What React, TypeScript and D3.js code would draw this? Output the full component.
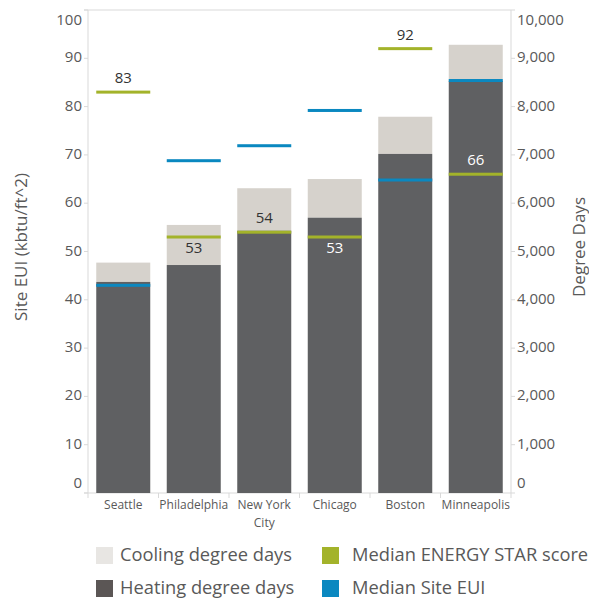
import React from "react";
import * as d3 from "d3";

const cities = ["Seattle", "Philadelphia", "New York City", "Chicago", "Boston", "Minneapolis"];
const heatingDegreeDays = [4370, 4720, 5430, 5700, 7020, 8530];
const coolingDegreeDays = [400, 830, 880, 800, 770, 750];
const medianSiteEUI = [43, 68.8, 71.9, 79.2, 64.8, 85.4];
const medianScore = [83, 53, 54, 53, 92, 66];
const scoreLabelSide = ["above", "below", "above", "below", "above", "above"];
const euiTicks = [0, 10, 20, 30, 40, 50, 60, 70, 80, 90, 100];
const ddTicks = [0, 1000, 2000, 3000, 4000, 5000, 6000, 7000, 8000, 9000, 10000];

const W = 589;
const H = 601;
const left = 88;
const right = 511;
const top = 10;
const bottom = 493;

const C_HEAT = "#5f6062";
const C_COOL = "#d6d2cc";
const C_GREEN = "#a3b32a";
const C_BLUE = "#0a88c0";
const C_AXIS = "#d9d9d9";
const C_TEXT = "#595959";
const FONT = "'Open Sans', sans-serif";

export default function App() {
  const x = d3.scaleBand<string>().domain(cities).range([left, right]).paddingInner(0.234).paddingOuter(0.117);
  const band = d3.scaleBand<string>().domain(cities).range([left, right]);
  const yE = d3.scaleLinear().domain([0, 100]).range([bottom, top]);
  const yD = d3.scaleLinear().domain([0, 10000]).range([bottom, top]);
  const bw = x.bandwidth();
  const fmt = d3.format(",");

  return (
    <svg width={W} height={H} style={{ position: "absolute", left: 0, top: 0, fontFamily: FONT }}>
      <rect x={0} y={0} width={W} height={H} fill="#fff" />
      {/* frame */}
      <line x1={left - 4} x2={right} y1={top} y2={top} stroke={C_AXIS} />
      <line x1={left} x2={left} y1={top} y2={bottom} stroke={C_AXIS} />
      <line x1={right} x2={right} y1={top} y2={bottom} stroke={C_AXIS} />
      <line x1={left - 4} x2={right} y1={bottom} y2={bottom} stroke={C_AXIS} />
      {/* left axis */}
      {euiTicks.map((t, i) => {
        const yy = yE(t);
        const ly = i === euiTicks.length - 1 ? yy + 11 : i === 0 ? yy - 9 : yy;
        return (
          <g key={"l" + t}>
            <line x1={left - 4} x2={left} y1={yy} y2={yy} stroke={C_AXIS} />
            <text x={82} y={ly} textAnchor="end" dominantBaseline="middle" fontSize={15} fill={C_TEXT}>{t}</text>
          </g>
        );
      })}
      {/* right axis */}
      {ddTicks.map((t, i) => {
        const yy = yD(t);
        const ly = i === ddTicks.length - 1 ? yy + 11 : i === 0 ? yy - 9 : yy;
        return (
          <g key={"r" + t}>
            <line x1={right} x2={right + 4} y1={yy} y2={yy} stroke={C_AXIS} />
            <text x={517} y={ly} textAnchor="start" dominantBaseline="middle" fontSize={15} fill={C_TEXT}>{fmt(t)}</text>
          </g>
        );
      })}
      <text transform={`translate(22,247) rotate(-90)`} textAnchor="middle" dominantBaseline="middle" fontSize={17} fill={C_TEXT}>Site EUI (kbtu/ft^2)</text>
      <text transform={`translate(580,247) rotate(-90)`} textAnchor="middle" dominantBaseline="middle" fontSize={17} fill={C_TEXT}>Degree Days</text>
      {/* category ticks and labels */}
      {cities.map((c, i) => (
        <g key={"c" + c}>
          <line x1={band(c)!} x2={band(c)!} y1={bottom} y2={bottom + 5} stroke={C_AXIS} />
          {i === cities.length - 1 && (
            <line x1={right} x2={right} y1={bottom} y2={bottom + 5} stroke={C_AXIS} />
          )}
        </g>
      ))}
      {cities.map((c) => {
        const cx = x(c)! + bw / 2;
        const words = c === "New York City" ? ["New York", "City"] : [c];
        return (
          <text key={"t" + c} x={cx} y={506} textAnchor="middle" dominantBaseline="middle" fontSize={12} fill={C_TEXT}>
            {words.map((w, k) => (
              <tspan key={k} x={cx} dy={k === 0 ? 0 : 18}>{w}</tspan>
            ))}
          </text>
        );
      })}
      {/* bars */}
      {cities.map((c, i) => {
        const h = heatingDegreeDays[i];
        const total = h + coolingDegreeDays[i];
        return (
          <g key={"b" + c}>
            <rect x={x(c)!} width={bw} y={yD(total)} height={yD(h) - yD(total)} fill={C_COOL} />
            <rect x={x(c)!} width={bw} y={yD(h)} height={yD(0) - yD(h)} fill={C_HEAT} />
          </g>
        );
      })}
      {/* median lines */}
      {cities.map((c, i) => (
        <g key={"m" + c}>
          <rect x={x(c)!} width={bw} y={yE(medianSiteEUI[i]) - 1.5} height={3} fill={C_BLUE} />
          <rect x={x(c)!} width={bw} y={yE(medianScore[i]) - 1.5} height={3} fill={C_GREEN} />
        </g>
      ))}
      {/* score labels */}
      {cities.map((c, i) => {
        const ly = yE(medianScore[i]) + (scoreLabelSide[i] === "above" ? -13 : 12);
        const onDark = ly > yD(heatingDegreeDays[i]);
        return (
          <text key={"s" + c} x={x(c)! + bw / 2} y={ly} textAnchor="middle" dominantBaseline="middle" fontSize={15} fill={onDark ? "#ffffff" : "#333333"}>
            {medianScore[i]}
          </text>
        );
      })}
      {/* legend */}
      <g fontSize={18.3} fill={C_TEXT}>
        <rect x={96} y={547} width={17} height={17} fill="#e8e6e3" />
        <text x={120} y={556} dominantBaseline="middle">Cooling degree days</text>
        <rect x={96} y={580} width={17} height={17} fill="#5b5655" />
        <text x={120} y={589} dominantBaseline="middle">Heating degree days</text>
        <rect x={322} y={547} width={17} height={17} fill={C_GREEN} />
        <text x={352} y={556} dominantBaseline="middle">Median ENERGY STAR score</text>
        <rect x={322} y={580} width={17} height={17} fill={C_BLUE} />
        <text x={352} y={589} dominantBaseline="middle">Median Site EUI</text>
      </g>
    </svg>
  );
}
